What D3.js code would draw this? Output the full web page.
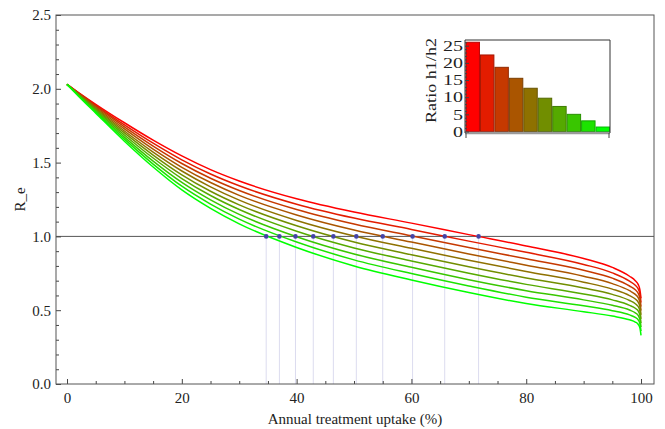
<!DOCTYPE html>
<html><head><meta charset="utf-8">
<script src="https://cdn.jsdelivr.net/npm/d3@7"></script>
<style>body{margin:0;background:#fff}svg{display:block}</style>
</head><body><svg id="c" width="665" height="429"></svg>
<script>
const uptake = [0,2,5,10,15,20,25,30,40,50,60,70,80,90,95,98,99,99.5,99.8,100];
const s0 = [2.03,1.975,1.895,1.770,1.652,1.545,1.452,1.375,1.255,1.165,1.090,1.012,0.935,0.850,0.790,0.730,0.700,0.675,0.640,0.580];
const s1 = [2.03,1.972,1.888,1.756,1.632,1.519,1.423,1.343,1.218,1.124,1.047,0.968,0.892,0.810,0.753,0.697,0.669,0.645,0.611,0.552];
const s2 = [2.03,1.969,1.882,1.742,1.612,1.494,1.394,1.311,1.182,1.084,1.004,0.925,0.848,0.770,0.717,0.664,0.638,0.615,0.582,0.524];
const s3 = [2.03,1.967,1.875,1.728,1.591,1.468,1.365,1.278,1.145,1.043,0.962,0.881,0.805,0.730,0.680,0.632,0.607,0.585,0.553,0.497];
const s4 = [2.03,1.964,1.868,1.714,1.571,1.443,1.336,1.246,1.108,1.003,0.919,0.838,0.762,0.690,0.643,0.599,0.576,0.555,0.524,0.469];
const s5 = [2.03,1.961,1.862,1.701,1.551,1.417,1.306,1.214,1.072,0.962,0.876,0.794,0.718,0.650,0.607,0.566,0.544,0.525,0.496,0.441];
const s6 = [2.03,1.958,1.855,1.687,1.531,1.392,1.277,1.182,1.035,0.922,0.833,0.751,0.675,0.610,0.570,0.533,0.513,0.495,0.467,0.413];
const s7 = [2.03,1.956,1.848,1.673,1.510,1.366,1.248,1.149,0.998,0.881,0.791,0.707,0.632,0.570,0.533,0.501,0.482,0.465,0.438,0.386];
const s8 = [2.03,1.953,1.842,1.659,1.490,1.340,1.219,1.117,0.962,0.841,0.748,0.664,0.588,0.530,0.497,0.468,0.451,0.435,0.409,0.358];
const s9 = [2.03,1.950,1.835,1.645,1.470,1.315,1.190,1.085,0.925,0.800,0.705,0.620,0.545,0.490,0.460,0.435,0.420,0.405,0.380,0.330];
const series = [s0,s1,s2,s3,s4,s5,s6,s7,s8,s9];
const crossX = [71.7,65.8,60.2,55.0,50.4,46.4,42.9,39.8,37.0,34.7];
const threshold = 1.0;
const ratios = [26.0,22.3,18.7,15.5,12.6,9.7,7.3,5.0,3.1,1.3];
const xTicks = [0,20,40,60,80,100];
const yTicks = [0,0.5,1.0,1.5,2.0,2.5];
const insetTicks = [0,5,10,15,20,25];

const FONT = "'Liberation Serif','Times New Roman',serif";
const svg = d3.select("#c").style("font-family",FONT);
const L=56,R=654,T=15,B=384;
const x = d3.scaleLinear().domain([-1.92,102.26]).range([L,R]);
const y = d3.scaleLinear().domain([0,2.5]).range([B,T]);
const col = i => { const t=i/9; return d3.rgb(255*(1-t),255*t,0); };

// drop lines
svg.append("g").selectAll("line").data(crossX).join("line")
  .attr("x1",d=>x(d)).attr("x2",d=>x(d)).attr("y1",y(threshold)).attr("y2",B)
  .attr("stroke","#dcdcef").attr("stroke-width",1);
// threshold line
svg.append("line").attr("x1",L).attr("x2",R).attr("y1",y(threshold)).attr("y2",y(threshold))
  .attr("stroke","#555").attr("stroke-width",1);
// curves
const line = d3.line().x((d,i)=>x(uptake[i])).y(d=>y(d)).curve(d3.curveMonotoneX);
svg.append("g").selectAll("path").data(series).join("path")
  .attr("d",d=>line(d)).attr("fill","none").attr("stroke",(d,i)=>col(i)).attr("stroke-width",1.5);
// points
svg.append("g").selectAll("circle").data(crossX).join("circle")
  .attr("cx",d=>x(d)).attr("cy",y(threshold)).attr("r",2.3).attr("fill","#4444a6");

function styleAxis(g,size){
  g.attr("font-family",null).attr("font-size",null);
  g.selectAll(".domain").remove();
  g.selectAll("text").style("font-family",FONT).style("font-size",size+"px").attr("fill","#222");
  g.selectAll(".tick line").attr("stroke","#444");
}
// axes
const gx = svg.append("g").attr("transform",`translate(0,${B})`)
  .call(d3.axisBottom(x).tickValues(d3.range(0,101,5)).tickSize(-4).tickFormat(""));
gx.selectAll(".tick line").attr("y2",d=>d%20===0?-5:-3);
const gxl = svg.append("g").attr("transform",`translate(0,${B})`)
  .call(d3.axisBottom(x).tickValues(xTicks).tickSize(0).tickPadding(8).tickFormat(d3.format("d")));
const gy = svg.append("g").attr("transform",`translate(${L},0)`)
  .call(d3.axisLeft(y).tickValues(d3.range(0,26).map(v=>v/10)).tickSize(-3).tickFormat(""));
gy.selectAll(".tick line").attr("x2",(d,i)=>i%5===0?5:3);
const gyl = svg.append("g").attr("transform",`translate(${L},0)`)
  .call(d3.axisLeft(y).tickValues(yTicks).tickSize(0).tickPadding(5).tickFormat(d3.format(".1f")));
[gx,gxl,gy,gyl].forEach(g=>styleAxis(g,15));
svg.append("rect").attr("x",L).attr("y",T).attr("width",R-L).attr("height",B-T).attr("fill","none").attr("stroke","#555").attr("stroke-width",1);
svg.append("text").attr("x",355).attr("y",424).attr("text-anchor","middle").style("font-size","15px").attr("fill","#222").text("Annual treatment uptake (%)");
svg.append("text").attr("transform",`translate(25,${(T+B)/2}) rotate(-90)`).attr("text-anchor","middle").style("font-size","15px").attr("fill","#222").text("R_e");

// inset
const iL=465,iR=610,iT=40,iB=133;
const xb = d3.scaleBand().domain(d3.range(ratios.length)).range([466,609.5]).paddingInner(0.07);
const yb = d3.scaleLinear().domain([0,26.66]).range([131.5,iT]);
svg.append("rect").attr("x",iL).attr("y",iT).attr("width",iR-iL).attr("height",iB-iT).attr("fill","#fff");
svg.append("g").selectAll("rect").data(ratios).join("rect")
  .attr("x",(d,i)=>xb(i)).attr("width",xb.bandwidth()).attr("y",d=>yb(d)).attr("height",d=>yb(0)-yb(d))
  .attr("fill",(d,i)=>col(i)).attr("stroke",(d,i)=>col(i).darker(0.9)).attr("stroke-width",1);
svg.append("line").attr("x1",iL).attr("x2",iR).attr("y1",iB).attr("y2",iB).attr("stroke","#9a9a9a").attr("stroke-width",2.5);
svg.append("path").attr("d",`M${iL},${iB}V${iT}H${iR}V${iB}`).attr("fill","none").attr("stroke","#333").attr("stroke-width",1);
const gi = svg.append("g").attr("transform",`translate(${iL},0)`)
  .call(d3.axisLeft(yb).tickValues(d3.range(0,27)).tickSize(-2).tickFormat(""));
gi.selectAll(".tick line").attr("x2",d=>d%5===0?4:2);
const gil = svg.append("g").attr("transform",`translate(${iL},0)`)
  .call(d3.axisLeft(yb).tickValues(insetTicks).tickSize(0).tickPadding(2).tickFormat(d3.format("d")));
[gi,gil].forEach(g=>styleAxis(g,15));
gil.selectAll("text").attr("textLength",d=>String(d).length*10).attr("lengthAdjust","spacingAndGlyphs");
svg.append("g").selectAll("line").data([466,609]).join("line")
  .attr("x1",d=>d).attr("x2",d=>d).attr("y1",iB).attr("y2",iB+5).attr("stroke","#444");
svg.append("text").attr("transform",`translate(436,${(iT+iB)/2-6}) rotate(-90)`).attr("text-anchor","middle")
  .style("font-size","15px").attr("textLength",85).attr("lengthAdjust","spacingAndGlyphs").attr("fill","#222").text("Ratio h1/h2");
</script></body></html>
